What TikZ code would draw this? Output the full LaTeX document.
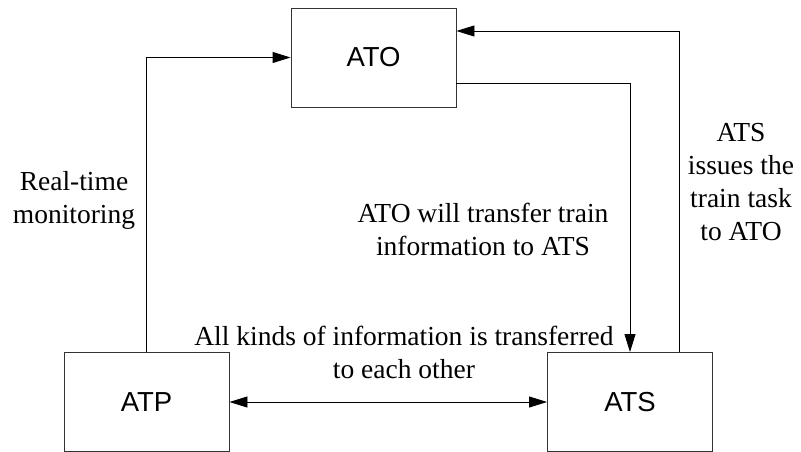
\documentclass[tikz,border=0pt]{standalone}
\usepackage{fontspec}
\setmainfont{Liberation Serif}
\newfontfamily\boxfont{Liberation Sans}
\usetikzlibrary{arrows.meta}

\begin{document}
\begin{tikzpicture}[
    x=1pt, y=-1pt,
    box/.style={draw=black!80, line width=0.9pt, rectangle, minimum width=165pt, minimum height=99pt, align=center, font=\boxfont\fontsize{27.5}{33}\selectfont},
    lbl/.style={align=center, inner sep=0pt, font=\fontsize{27.5}{33}\selectfont},
    arrow/.style={-{Triangle[length=18pt, width=11pt]}, line width=0.9pt},
    dblarrow/.style={{Triangle[length=18pt, width=11pt]}-{Triangle[length=18pt, width=11pt]}, line width=0.9pt}
]
    \useasboundingbox (0,0) rectangle (801,452);

    % Subsystems
    \node[box] (ato) at (373.5, 57.5) {ATO};
    \node[box] (atp) at (146.5, 402) {ATP};
    \node[box] (ats) at (630, 402) {ATS};

    % Labels
    \node[lbl] (monlbl) at (74, 200) {Real-time\\monitoring};
    \node[lbl] (infolbl) at (483, 229) {ATO will transfer train\\information to ATS};
    \node[lbl] (tasklbl) at (741, 182) {ATS\\issues the\\train task\\to ATO};
    \node[lbl] (alllbl) at (404, 352) {All kinds of information is transferred\\to each other};

    % Arrows
    \draw[arrow] (atp.north) |- (ato.west);
    \draw[arrow] ([yshift=-25.5pt]ato.east) -| (ats.north);
    \draw[arrow] ([xshift=49pt]ats.north) |- ([yshift=26.5pt]ato.east);
    \draw[dblarrow] (atp.east) -- (ats.west);

\end{tikzpicture}
\end{document}
